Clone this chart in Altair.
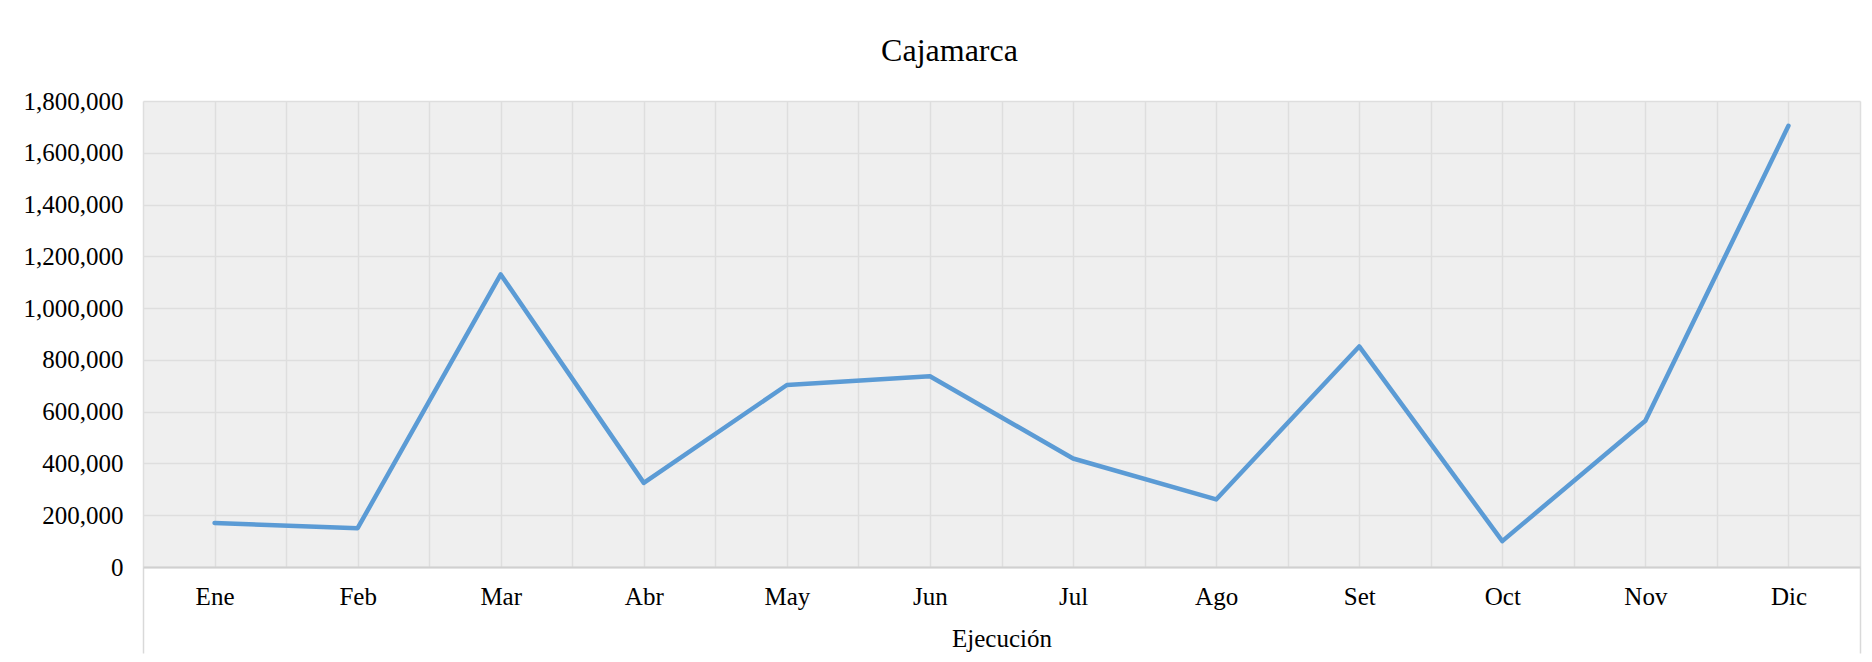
import json
import altair as alt
import pandas as pd

# ---- data ----
months = ["Ene", "Feb", "Mar", "Abr", "May", "Jun", "Jul", "Ago", "Set", "Oct", "Nov", "Dic"]
values = [170000, 150000, 1130000, 325000, 703000, 737000, 419000, 261000, 852000, 100000, 565000, 1704000]
y_ticks = [0, 200000, 400000, 600000, 800000, 1000000, 1200000, 1400000, 1600000, 1800000]
chart_title = "Cajamarca"
x_title = "Ejecución"

df = pd.DataFrame({"mes": months, "idx": list(range(len(months))), "valor": values})

# ---- styling ----
W, H = 1717, 466
FONT = "Liberation Serif"
GRID = "#dedede"
PLOT_BG = "#efefef"   # average tone of the light diagonal hatch
LINE = "#5b9bd5"

n = len(months)
x_dom = [-0.5, n - 0.5]
y_dom = [0, 1800000]
x_vals = [k / 2 - 0.5 for k in range(2 * n + 1)]
label_expr = "datum.value % 1 == 0 ? " + json.dumps(months) + "[datum.value] : ''"
edge_test = f"datum.value == -0.5 || datum.value == {n - 0.5}"

x_axis = alt.Axis(
    values=x_vals,
    labelExpr=label_expr,
    grid=True, gridColor=GRID, gridWidth=1.5,
    domain=True, domainColor="#d0d0d0", domainWidth=2,
    ticks=True, tickSize=86, tickColor="#d9d9d9", tickWidth=1.5,
    tickOpacity={"condition": {"test": edge_test, "value": 1}, "value": 0},
    labelPadding=-69, labelFont=FONT, labelFontSize=25, labelColor="#000000",
    labelAngle=0, labelOverlap=False, labelFlush=False,
    title=x_title, titleFont=FONT, titleFontSize=25, titleFontWeight="normal",
    titleColor="#000000", titleBaseline="alphabetic", titleY=79,
)

y_axis = alt.Axis(
    values=y_ticks, format=",d",
    grid=True, gridColor=GRID, gridWidth=1.5,
    domain=False, ticks=False, tickSize=0, labelPadding=20,
    labelFont=FONT, labelFontSize=25, labelColor="#000000",
    title=None,
)

x_scale = alt.Scale(domain=x_dom, nice=False, zero=False)
y_scale = alt.Scale(domain=y_dom, nice=False)

chart = (
    alt.Chart(df)
    .mark_line(color=LINE, strokeWidth=4.5, strokeJoin="round", strokeCap="round")
    .encode(
        x=alt.X("idx:Q", scale=x_scale, axis=x_axis),
        y=alt.Y("valor:Q", scale=y_scale, axis=y_axis),
    )
    .properties(
        width=W,
        height=H,
        autosize=alt.AutoSizeParams(type="none"),
        padding={"left": 135, "top": 93, "right": 2, "bottom": 90},
        title=alt.TitleParams(
            text=chart_title, font=FONT, fontSize=32, fontWeight="normal", color="#000000",
            anchor="middle", baseline="alphabetic", offset=0, dy=4, dx=-52,
        ),
    )
    .configure_view(fill=PLOT_BG, stroke="transparent")
)

chart.save("out.html", embed_options={"renderer": "svg", "actions": False})
